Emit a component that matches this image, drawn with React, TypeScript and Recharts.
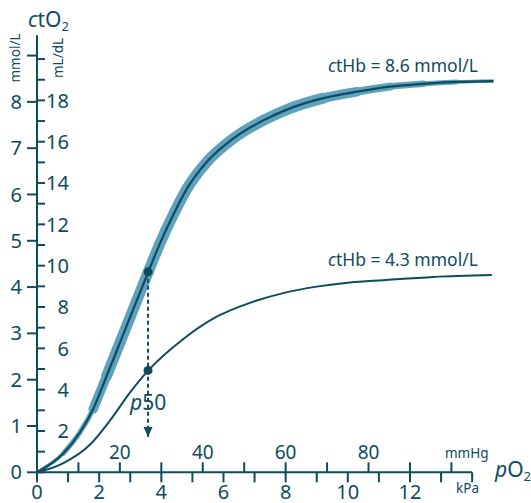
import React from "react";
import { ComposedChart, Line, XAxis, YAxis, ReferenceLine } from "recharts";

// pO2 (kPa) and ctO2 (mmol/L)
const KPA_HB86 = [0, 0.85, 1.38, 1.81, 2.24, 2.67, 3.58, 3.96, 4.39, 4.82, 5.46, 6.32, 7.28, 8.14, 9.21, 10.29, 11.36, 12.43, 13.5, 14.68];
const CTO2_HB86 = [0, 0.41, 0.86, 1.37, 2.08, 2.8, 4.33, 4.95, 5.57, 6.12, 6.7, 7.21, 7.6, 7.86, 8.08, 8.22, 8.33, 8.39, 8.43, 8.45];

const KPA_HB43 = [0, 0.85, 1.71, 2.35, 2.99, 3.58, 4.71, 5.78, 6.85, 7.92, 9.0, 10.07, 11.14, 12.75, 14.63];
const CTO2_HB43 = [0, 0.2, 0.6, 1.12, 1.72, 2.2, 2.88, 3.36, 3.66, 3.87, 4.01, 4.1, 4.15, 4.22, 4.26];

// p50 marker (mmHg) with ctO2 on both curves and the arrow tip
const P50_MMHG = 26.8;
const P50_CTO2 = [4.33, 2.2];
const ARROW_TIP = 0.76;

const KPA_TICKS = [0, 1, 2, 3, 4, 5, 6, 7, 8, 9, 10, 11, 12, 13, 14];
const KPA_LABELS = [0, 2, 4, 6, 8, 10, 12];
const MMHG_TICKS = [10, 20, 30, 40, 50, 60, 70, 80, 90, 100];
const MMHG_LABELS = [20, 40, 60, 80];
const MMOL_TICKS = [0, 1, 2, 3, 4, 5, 6, 7, 8, 9];
const MMOL_LABELS = [0, 1, 2, 3, 4, 5, 6, 7, 8];
const MLDL_TICKS = [0, 1, 2, 3, 4, 5, 6, 7, 8, 9, 10, 11, 12, 13, 14, 15, 16, 17, 18, 19, 20];
const MLDL_LABELS = [2, 4, 6, 8, 10, 12, 14, 16, 18];

const X_MAX = 14.7; // kPa
const Y_MAX = 9.44; // mmol/L
const KPA_TO_MMHG = 7.50062;
const MMOL_TO_MLDL = 2.241;

const DARK = "#0f4b5e";
const BAND = "#5ea2bd";
const FONT = "'Noto Sans', sans-serif";

// band layers: kPa range and stroke width, so the band tapers at both ends
const BAND_LAYERS = [
  { from: 0, to: 14.68, w: 3.5 },
  { from: 0.85, to: 13.5, w: 5 },
  { from: 1.81, to: 12.43, w: 6.5 },
  { from: 1.81, to: 11.36, w: 8 },
  { from: 1.81, to: 10.29, w: 9.5 },
  { from: 2.24, to: 9.21, w: 11 },
];

const hb86 = KPA_HB86.map((x, i) => ({ x, y: CTO2_HB86[i] }));
const hb43 = KPA_HB43.map((x, i) => ({ x, y: CTO2_HB43[i] }));
const p50Dots = P50_CTO2.map((y) => ({ x: P50_MMHG, y }));
const p50Arrow = [
  { x: P50_MMHG, y: P50_CTO2[0] },
  { x: P50_MMHG, y: ARROW_TIP },
];

const MlTick = (props: any) => {
  const { x, y, payload } = props;
  if (!MLDL_LABELS.includes(payload.value)) return <g />;
  return (
    <text x={x + 24} y={y} dy="0.36em" textAnchor="end" fontSize={20} fill={DARK} fontFamily={FONT}>
      {payload.value}
    </text>
  );
};

const ArrowHead = (props: any) => {
  const { cx, cy, index } = props;
  if (index !== 1) return <g key={"a" + index} />;
  return <path key="arrow" d={`M${cx - 4.5},${cy - 10} L${cx + 4.5},${cy - 10} L${cx},${cy} Z`} fill={DARK} />;
};

export default function App() {
  const tickStyle = { fill: DARK, fontSize: 20, fontFamily: FONT };
  return (
    <div style={{ position: "absolute", left: 0, top: 0, width: 531, height: 503, background: "#fff" }}>
      <ComposedChart width={531} height={503} margin={{ top: 35.2, right: 37.1, bottom: 0.7, left: 7 }}>
        <XAxis
          xAxisId="kpa"
          dataKey="x"
          type="number"
          domain={[0, X_MAX]}
          allowDataOverflow
          ticks={KPA_TICKS}
          interval={0}
          height={30}
          axisLine={false}
          tickLine={{ stroke: DARK, strokeWidth: 2 }}
          tickSize={10}
          tickMargin={2}
          tick={tickStyle}
          tickFormatter={(v: number) => (KPA_LABELS.includes(v) ? String(v) : "")}
        />
        <XAxis
          xAxisId="mmhg"
          dataKey="x"
          type="number"
          domain={[0, X_MAX * KPA_TO_MMHG]}
          allowDataOverflow
          ticks={MMHG_TICKS}
          interval={0}
          mirror
          height={30}
          axisLine={false}
          tickLine={{ stroke: DARK, strokeWidth: 2 }}
          tickSize={10}
          tickMargin={3}
          tick={{ ...tickStyle, fontSize: 19 }}
          tickFormatter={(v: number) => (MMHG_LABELS.includes(v) ? String(v) : "")}
        />
        <YAxis
          yAxisId="mmol"
          type="number"
          domain={[0, Y_MAX]}
          allowDataOverflow
          ticks={MMOL_TICKS}
          interval={0}
          width={30}
          axisLine={{ stroke: DARK, strokeWidth: 2 }}
          tickLine={{ stroke: DARK, strokeWidth: 2 }}
          tickSize={10}
          tickMargin={5}
          tick={tickStyle}
          tickFormatter={(v: number) => (MMOL_LABELS.includes(v) ? String(v) : "")}
        />
        <YAxis
          yAxisId="mldl"
          type="number"
          domain={[0, Y_MAX * MMOL_TO_MLDL]}
          allowDataOverflow
          ticks={MLDL_TICKS}
          interval={0}
          mirror
          width={30}
          axisLine={false}
          tickLine={{ stroke: DARK, strokeWidth: 2 }}
          tickSize={8}
          tickMargin={0}
          tick={<MlTick />}
        />
        <ReferenceLine
          xAxisId="kpa"
          yAxisId="mmol"
          segment={[{ x: 0, y: 0 }, { x: 14, y: 0 }]}
          stroke={DARK}
          strokeWidth={2}
        />
        {BAND_LAYERS.map((b, i) => (
          <Line
            key={"band" + i}
            xAxisId="kpa"
            yAxisId="mmol"
            data={hb86.filter((p) => p.x >= b.from && p.x <= b.to)}
            dataKey="y"
            type="monotone"
            stroke={BAND}
            strokeWidth={b.w}
            strokeLinecap="round"
            dot={false}
            isAnimationActive={false}
          />
        ))}
        <Line xAxisId="kpa" yAxisId="mmol" data={hb86} dataKey="y" type="monotone" stroke={DARK} strokeWidth={2.2} dot={false} isAnimationActive={false} />
        <Line xAxisId="kpa" yAxisId="mmol" data={hb43} dataKey="y" type="monotone" stroke={DARK} strokeWidth={2} dot={false} isAnimationActive={false} />
        <Line xAxisId="mmhg" yAxisId="mmol" data={p50Arrow} dataKey="y" stroke={DARK} strokeWidth={2} strokeDasharray="4 3" dot={<ArrowHead />} isAnimationActive={false} />
        <Line xAxisId="mmhg" yAxisId="mmol" data={p50Dots} dataKey="y" stroke="none" dot={{ r: 4.5, fill: DARK, stroke: "none" }} isAnimationActive={false} />
      </ComposedChart>
      <svg width={531} height={503} style={{ position: "absolute", left: 0, top: 0, pointerEvents: "none" }} fontFamily={FONT} fill={DARK}>
        <text x={28} y={26.5} fontSize={21}>
          <tspan fontStyle="italic">c</tspan>tO<tspan fontSize={13} dy={4}>2</tspan>
        </text>
        <text transform="translate(20,58) rotate(-90)" textAnchor="middle" fontSize={13.5}>mmol/L</text>
        <text transform="translate(63,58) rotate(-90)" textAnchor="middle" fontSize={13.5}>mL/dL</text>
        <text x={328} y={72} fontSize={17.5}>
          <tspan fontStyle="italic">c</tspan>tHb = 8.6 mmol/L
        </text>
        <text x={328} y={266} fontSize={17.5}>
          <tspan fontStyle="italic">c</tspan>tHb = 4.3 mmol/L
        </text>
        <text x={130} y={410} fontSize={21}>
          <tspan fontStyle="italic">p</tspan>50
        </text>
        <text x={495} y={477} fontSize={21}>
          <tspan fontStyle="italic">p</tspan>O<tspan fontSize={13} dy={4}>2</tspan>
        </text>
        <text x={445} y={458} fontSize={13.5}>mmHg</text>
        <text x={456} y={493} fontSize={13.5}>kPa</text>
      </svg>
    </div>
  );
}
